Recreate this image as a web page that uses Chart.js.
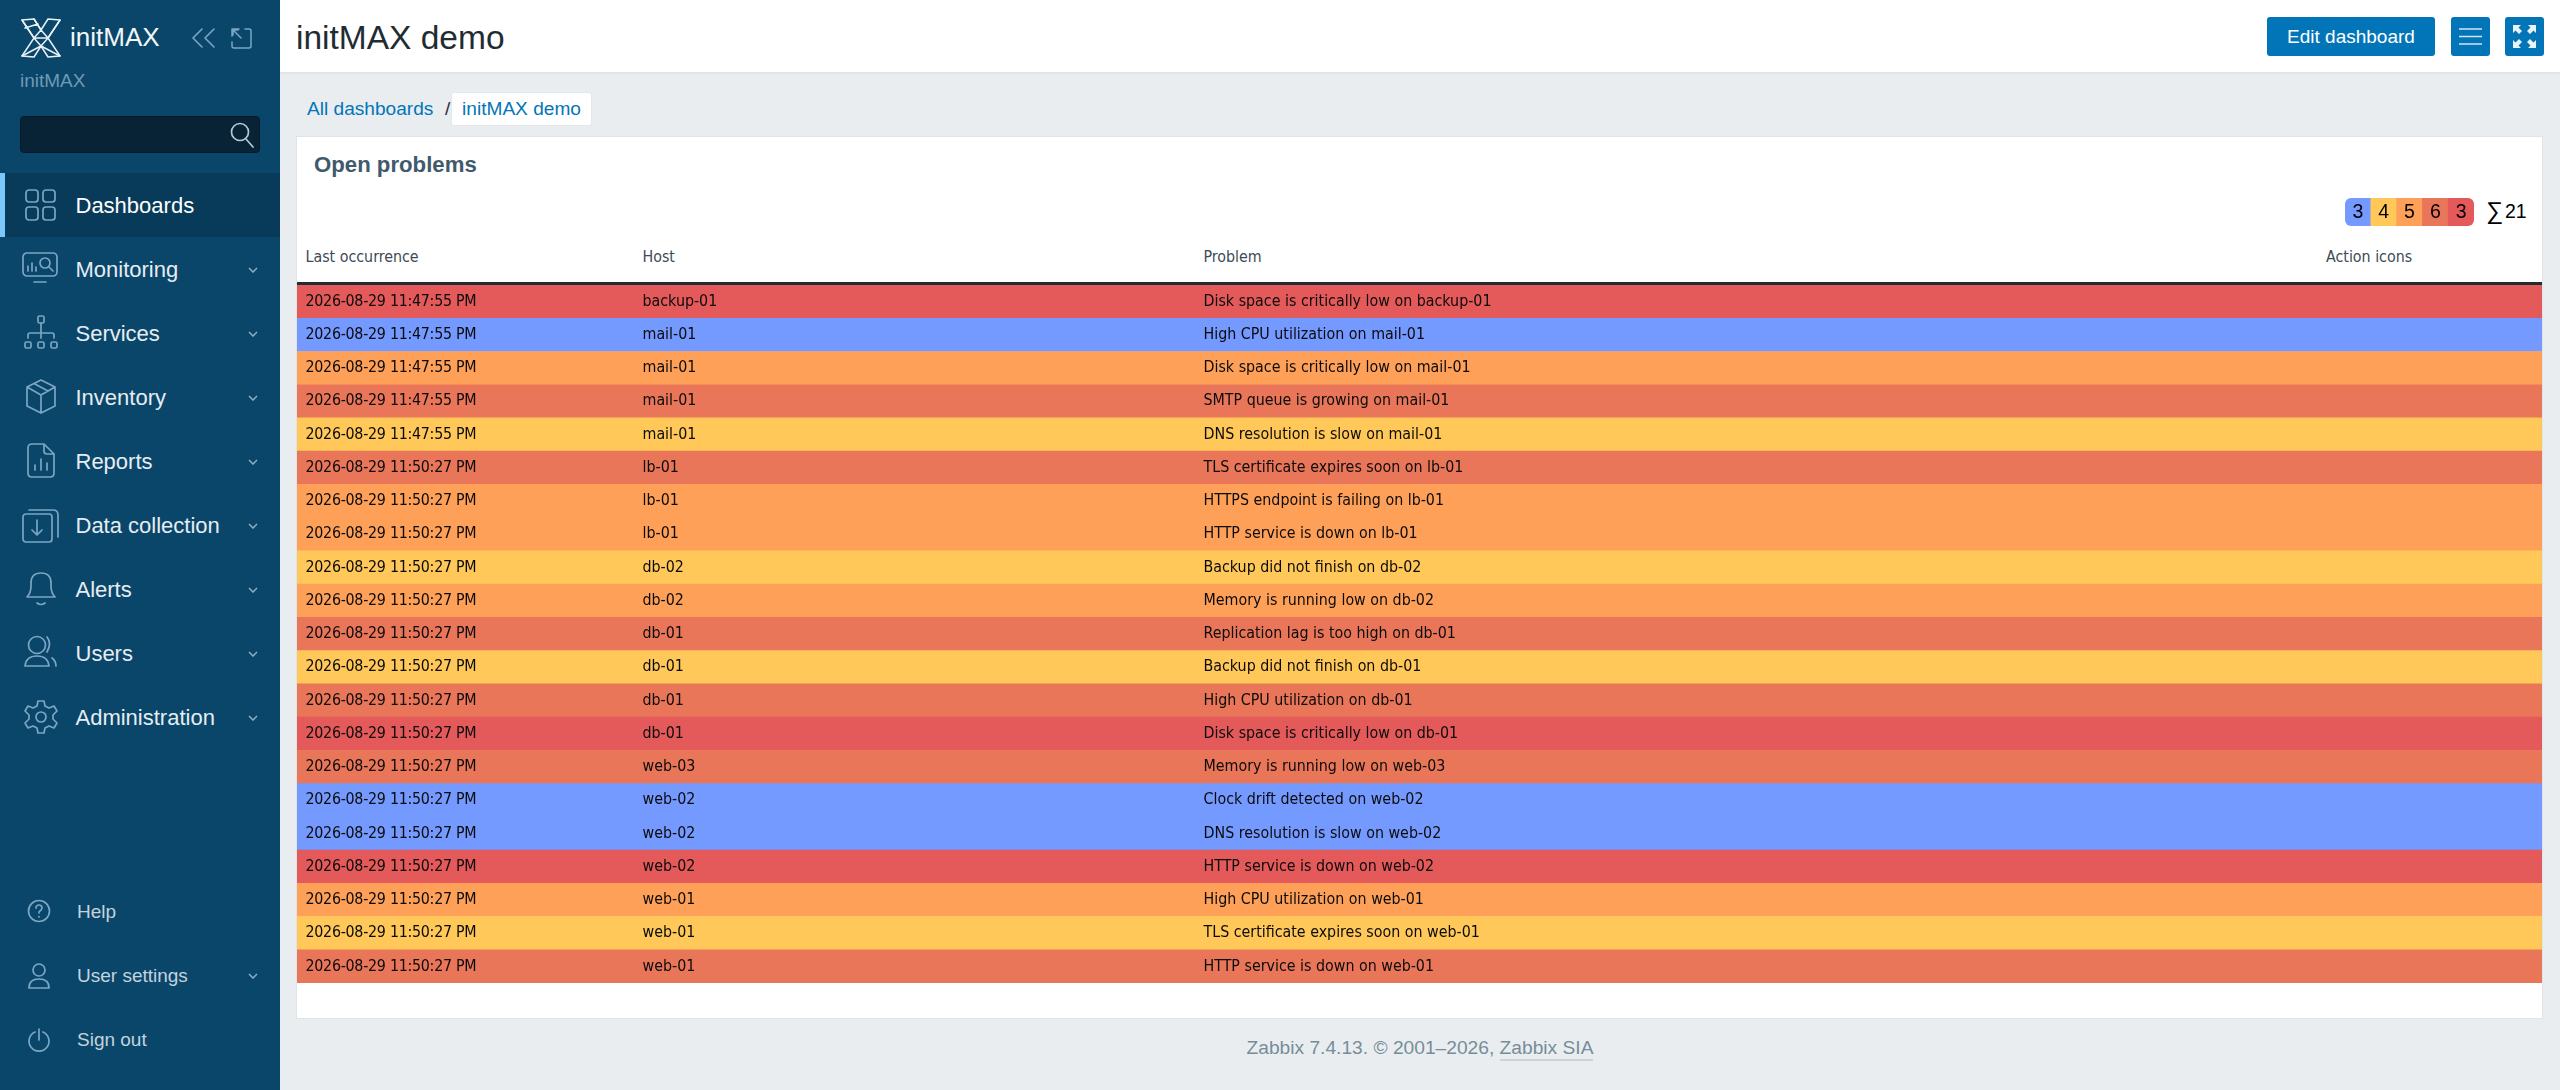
<!DOCTYPE html>
<html><head><meta charset="utf-8"><title>initMAX demo</title>
<script src="https://cdn.jsdelivr.net/npm/chart.js@4"></script>
<style>
html,body{margin:0;padding:0;width:2560px;height:1090px;overflow:hidden;background:#e9edf0;font-family:"Liberation Sans",Arial,sans-serif}
.a{position:absolute;white-space:nowrap}
#side{left:0;top:0;width:280px;height:1090px;background:#0a466a}
#active{left:0;top:173px;width:280px;height:64px;background:#083a59}
#stripe{left:0;top:173px;width:5px;height:64px;background:#7cc8fb}
.m{left:75.5px;font-size:22px;line-height:26px;color:#e6edf2;transform:translateY(-12px)}
.b{left:77px;font-size:19px;line-height:24px;color:#c3d3de;transform:translateY(-11px)}
svg.i{position:absolute;fill:none;stroke:#7aa6c2;stroke-width:1.7;stroke-linecap:round;stroke-linejoin:round}
.cv{position:absolute;left:248px;width:10px;height:6px;fill:none;stroke:#8fb2c8;stroke-width:1.4}
#top{left:280px;top:0;width:2280px;height:72px;background:#fff;border-bottom:2px solid #dfe4e7}
.btn{position:absolute;top:17px;height:39px;background:#0275b8;border-radius:3px;color:#fff}
#panel{left:297px;top:137px;width:2245px;height:881px;background:#fff;box-shadow:0 0 0 1px #dfe4e7}
.th{font-family:"DejaVu Sans Condensed","DejaVu Sans";font-size:15.85px;color:#3d4a54;top:248px;line-height:18px}
</style></head><body>
<div class="a" id="side"></div><div class="a" id="active"></div><div class="a" id="stripe"></div>

<svg class="i" style="left:20px;top:18px;stroke:#e8f0f4;stroke-width:1.5" width="42" height="40" viewBox="0 0 42 40">
<path d="M2 2 14 1 21 12 28 1 40 2 28 20 40 38 28 39 21 28 14 39 2 38 14 20Z"/><path d="M2 2 14 20 21 12 14 1M40 2 28 20 21 12M14 20 21 28 28 20M2 38 21 28 40 38M14 20 28 20M5 10 18 6"/></svg>
<div class="a" style="left:70px;top:21px;font-size:26px;line-height:32px;color:#f2f6f8">initMAX</div>
<svg class="i" style="left:191px;top:28px;stroke-width:1.6" width="25" height="20" viewBox="0 0 25 20"><path d="M11 1 2 10 11 19M23 1 14 10 23 19"/></svg>
<svg class="i" style="left:231px;top:28px;stroke-width:1.5" width="21" height="21" viewBox="0 0 21 21"><path d="M8 1H1V8M1 14V18Q1 20 3 20H18Q20 20 20 18V3Q20 1 18 1H14M2 2 10 10M2 2V7M2 2H7"/></svg>
<div class="a" style="left:20px;top:69px;font-size:19px;line-height:24px;color:#6f9ab3">initMAX</div>
<div class="a" style="left:20px;top:116px;width:238px;height:35px;background:#082335;border:1.5px solid #04192a;border-radius:4px"></div>
<svg class="i" style="left:229px;top:120px;stroke:#b6c9d5" width="26" height="28" viewBox="0 0 26 28"><circle cx="11" cy="12" r="8.5"/><path d="M17 19 24 27"/></svg>

<div class="a m" style="top:205px;color:#fff">Dashboards</div>
<div class="a m" style="top:269px">Monitoring</div>
<div class="a m" style="top:333px">Services</div>
<div class="a m" style="top:397px">Inventory</div>
<div class="a m" style="top:461px">Reports</div>
<div class="a m" style="top:525px">Data collection</div>
<div class="a m" style="top:589px">Alerts</div>
<div class="a m" style="top:653px">Users</div>
<div class="a m" style="top:717px">Administration</div>
<div class="a b" style="top:911px">Help</div>
<div class="a b" style="top:975px">User settings</div>
<div class="a b" style="top:1039px">Sign out</div>

<svg class="i" style="left:24px;top:188px" width="32" height="34" viewBox="0 0 32 34"><rect x="2" y="2" width="12" height="12" rx="3"/><rect x="19" y="2" width="12" height="12" rx="3"/><rect x="2" y="19" width="12" height="13" rx="3"/><rect x="19" y="19" width="12" height="13" rx="3"/></svg>
<svg class="i" style="left:22px;top:252px" width="36" height="32" viewBox="0 0 36 32"><rect x="1" y="1" width="34" height="23" rx="4"/><path d="M12 30H24M6 19V14M10 19V11M14 19V15"/><circle cx="23" cy="11" r="5"/><path d="M27 15 31 19"/></svg>
<svg class="i" style="left:24px;top:315px" width="34" height="34" viewBox="0 0 34 34"><rect x="14" y="1" width="6" height="7" rx="1.5"/><rect x="1" y="27" width="6" height="6" rx="1.5"/><rect x="14" y="27" width="6" height="6" rx="1.5"/><rect x="27" y="27" width="6" height="6" rx="1.5"/><path d="M17 8V23M4 23V20Q4 18 6 18H28Q30 18 30 20V23"/></svg>
<svg class="i" style="left:25px;top:379px" width="32" height="36" viewBox="0 0 32 36"><path d="M16 1 30 8V27L16 34 2 27V8ZM2 8 16 16 30 8M16 16V34M9 4.5 23 12"/></svg>
<svg class="i" style="left:27px;top:443px" width="28" height="36" viewBox="0 0 28 36"><path d="M17 1H5Q1 1 1 5V30Q1 34 5 34H23Q27 34 27 30V11ZM17 1V8Q17 11 20 11H27M8 27V22M14 27V16M20 27V20"/></svg>
<svg class="i" style="left:22px;top:507px" width="37" height="36" viewBox="0 0 37 36"><rect x="1" y="7" width="29" height="28" rx="3"/><path d="M15 13V27M10 23 15 28 20 23M7 3H31Q36 3 36 8V30"/></svg>
<svg class="i" style="left:25px;top:571px" width="32" height="36" viewBox="0 0 32 36"><path d="M2 26H30Q26 22 26 15V12Q26 2 16 2T6 12V15Q6 22 2 26ZM12 32Q16 35 20 32"/></svg>
<svg class="i" style="left:24px;top:635px" width="34" height="34" viewBox="0 0 34 34"><circle cx="13" cy="10" r="8.5"/><path d="M1 31Q2 21 13 21T25 31ZM23 2Q28 8 23 17M28 23Q32 26 32 31"/></svg>
<svg class="i" style="left:23px;top:699px" width="36" height="36" viewBox="0 0 36 36"><circle cx="18" cy="18" r="5"/><path d="M15 2H21L22 7 26 9 31 7 34 12 30 16V20L34 24 31 29 26 27 22 29 21 34H15L14 29 10 27 5 29 2 24 6 20V16L2 12 5 7 10 9 14 7Z"/></svg>
<svg class="i" style="left:27px;top:899px" width="24" height="24" viewBox="0 0 24 24"><circle cx="12" cy="12" r="10.5"/><path d="M9 9Q9 6 12 6T15 9Q15 11 12 13V14M12 17.5V18"/></svg>
<svg class="i" style="left:27px;top:962px" width="24" height="27" viewBox="0 0 24 27"><circle cx="12" cy="8" r="6"/><path d="M2 26Q2 17 12 17T22 26Z"/></svg>
<svg class="i" style="left:27px;top:1028px" width="24" height="25" viewBox="0 0 24 25"><path d="M8 4A10 10 0 1 0 16 4M12 1V12"/></svg>
<svg class="cv" style="top:267px" viewBox="0 0 10 6"><path d="M1 1 5 5 9 1"/></svg>
<svg class="cv" style="top:331px" viewBox="0 0 10 6"><path d="M1 1 5 5 9 1"/></svg>
<svg class="cv" style="top:395px" viewBox="0 0 10 6"><path d="M1 1 5 5 9 1"/></svg>
<svg class="cv" style="top:459px" viewBox="0 0 10 6"><path d="M1 1 5 5 9 1"/></svg>
<svg class="cv" style="top:523px" viewBox="0 0 10 6"><path d="M1 1 5 5 9 1"/></svg>
<svg class="cv" style="top:587px" viewBox="0 0 10 6"><path d="M1 1 5 5 9 1"/></svg>
<svg class="cv" style="top:651px" viewBox="0 0 10 6"><path d="M1 1 5 5 9 1"/></svg>
<svg class="cv" style="top:715px" viewBox="0 0 10 6"><path d="M1 1 5 5 9 1"/></svg>
<svg class="cv" style="top:973px" viewBox="0 0 10 6"><path d="M1 1 5 5 9 1"/></svg>

<div class="a" id="top"></div>
<div class="a" style="left:296px;top:17px;font-size:33.5px;line-height:42px;color:#1f2c33">initMAX demo</div>
<div class="btn" style="left:2267px;width:168px;font-size:19px;line-height:39px;text-align:center">Edit dashboard</div>
<div class="btn" style="left:2451px;width:39px"><svg style="position:absolute;left:8px;top:10px" width="23" height="19" viewBox="0 0 23 19" stroke="#cfe5f3" stroke-width="1.5"><path d="M0 2H23M0 9.5H23M0 17H23"/></svg></div>
<div class="btn" style="left:2505px;width:39px"><svg style="position:absolute;left:7px;top:7px" width="25" height="25" viewBox="0 0 25 25" fill="#e8f3fa"><path d="M1 1H9L6.5 3.5 10 7 7 10 3.500 6.500 1 9ZM24 1V9L21.500 6.500 18 10 15 7 18.500 3.500 16 1ZM1 24V16L3.500 18.500 7 15 10 18 6.500 21.500 9 24ZM24 24H16L18.500 21.500 15 18 18 15 21.500 18.500 24 16Z"/></svg></div>

<div class="a" style="left:307px;top:97px;font-size:19.1px;line-height:24px;color:#0275b8">All dashboards</div>
<div class="a" style="left:445px;top:97px;font-size:19px;line-height:24px;color:#1f2c33">/</div>
<div class="a" style="left:452px;top:93px;width:139px;height:32px;background:#fff;border-radius:2px;box-shadow:0 0 0 1px #e4e8eb;font-size:19.1px;line-height:32px;color:#0275b8;text-align:center">initMAX demo</div>

<div class="a" id="panel"></div>
<div class="a" style="left:314px;top:150.500px;font-size:22.2px;font-weight:bold;line-height:28px;color:#40596b">Open problems</div>
<div class="a th" style="left:305.500px">Last occurrence</div>
<div class="a th" style="left:642.500px">Host</div>
<div class="a th" style="left:1203.500px">Problem</div>
<div class="a th" style="left:2326px">Action icons</div>
<div class="a" style="left:297px;top:282px;width:2245px;height:3px;background:#1f2c33"></div>

<div class="a" style="left:297px;top:285px;width:2245px;height:698px"><canvas id="rows"></canvas></div>
<div class="a" style="left:2345px;top:198px;width:129px;height:28px;border-radius:6px;overflow:hidden"><canvas id="sev"></canvas></div>
<div class="a" style="left:2486px;top:196px;font-size:24px;line-height:30px;color:#000">∑</div>
<div class="a" style="left:2505px;top:199px;font-size:19.500px;line-height:24px;color:#000">21</div>

<div class="a" style="left:1246.500px;top:1036px;font-size:19.200px;line-height:24px;color:#768d99">Zabbix 7.4.13. © 2001–2026, <span style="border-bottom:2px solid #c9d3d9;padding-bottom:1px">Zabbix SIA</span></div>

<script>
const times = [
"2026-08-29 11:47:55 PM","2026-08-29 11:47:55 PM","2026-08-29 11:47:55 PM","2026-08-29 11:47:55 PM","2026-08-29 11:47:55 PM",
"2026-08-29 11:50:27 PM","2026-08-29 11:50:27 PM","2026-08-29 11:50:27 PM","2026-08-29 11:50:27 PM","2026-08-29 11:50:27 PM",
"2026-08-29 11:50:27 PM","2026-08-29 11:50:27 PM","2026-08-29 11:50:27 PM","2026-08-29 11:50:27 PM","2026-08-29 11:50:27 PM",
"2026-08-29 11:50:27 PM","2026-08-29 11:50:27 PM","2026-08-29 11:50:27 PM","2026-08-29 11:50:27 PM","2026-08-29 11:50:27 PM","2026-08-29 11:50:27 PM"];
const hosts = ["backup-01","mail-01","mail-01","mail-01","mail-01","lb-01","lb-01","lb-01","db-02","db-02","db-01","db-01","db-01","db-01","web-03","web-02","web-02","web-02","web-01","web-01","web-01"];
const problems = [
"Disk space is critically low on backup-01","High CPU utilization on mail-01","Disk space is critically low on mail-01","SMTP queue is growing on mail-01","DNS resolution is slow on mail-01",
"TLS certificate expires soon on lb-01","HTTPS endpoint is failing on lb-01","HTTP service is down on lb-01","Backup did not finish on db-02","Memory is running low on db-02",
"Replication lag is too high on db-01","Backup did not finish on db-01","High CPU utilization on db-01","Disk space is critically low on db-01","Memory is running low on web-03",
"Clock drift detected on web-02","DNS resolution is slow on web-02","HTTP service is down on web-02","High CPU utilization on web-01","TLS certificate expires soon on web-01","HTTP service is down on web-01"];
const severities = [4,0,2,3,1,3,2,2,1,2,3,1,3,4,3,0,0,4,2,1,3];
const rowSpans = [1,1,1,1,1,1,1,1,1,1,1,1,1,1,1,1,1,1,1,1,1];
const severityNames = ["Information","Warning","Average","High","Disaster"];
const severityColors = ["#7499ff","#ffc859","#ffa059","#e97659","#e45959"];
const severityCounts = [3,4,5,6,3];
const severitySpans = [1,1,1,1,1];

const rowFont = '15.85px "DejaVu Sans Condensed","DejaVu Sans",sans-serif';
const columnOffsets = [8.5,345.5,906.5];
const columnSpacing = ["-0.27px","0px","0px"];
const rowText = {id:"rowText",afterDatasetsDraw(c){
  const g=c.ctx,y=c.scales.y;
  g.save();g.font=rowFont;g.fillStyle="#0b0b0b";g.textBaseline="middle";g.textAlign="left";
  times.forEach((t,i)=>{
    const p=y.getPixelForValue(i);
    [t,hosts[i],problems[i]].forEach((s,k)=>{g.letterSpacing=columnSpacing[k];g.fillText(s,columnOffsets[k],p);});
  });
  g.restore();
}};
const sevText = {id:"sevText",afterDatasetsDraw(c){
  const g=c.ctx,x=c.scales.x;
  g.save();g.font='19.5px "Liberation Sans",Arial,sans-serif';g.fillStyle="#000";g.textBaseline="middle";g.textAlign="center";
  severityCounts.forEach((n,i)=>g.fillText(String(n),x.getPixelForValue(i),14.5));
  g.restore();
}};
const hidden = {display:false};
Chart.defaults.animation=false;
function sized(id,w,h){const e=document.getElementById(id);e.width=w;e.height=h;e.style.width=w+"px";e.style.height=h+"px";return e;}
new Chart(sized("rows",2245,698),{type:"bar",plugins:[rowText],
  data:{labels:times,datasets:[{data:rowSpans,backgroundColor:severities.map(s=>severityColors[s]),borderWidth:0,categoryPercentage:1,barPercentage:1}]},
  options:{indexAxis:"y",responsive:false,layout:{padding:0},plugins:{legend:hidden,tooltip:{enabled:false}},
    scales:{x:{display:false,min:0,max:1},y:{display:false,reverse:false,grid:hidden}}}});
new Chart(sized("sev",129,28),{type:"bar",plugins:[sevText],
  data:{labels:severityNames,datasets:[{data:severitySpans,backgroundColor:severityColors,borderWidth:0,categoryPercentage:1,barPercentage:1}]},
  options:{responsive:false,layout:{padding:0},plugins:{legend:hidden,tooltip:{enabled:false}},
    scales:{x:{display:false},y:{display:false,min:0,max:1}}}});
</script>
</body></html>
